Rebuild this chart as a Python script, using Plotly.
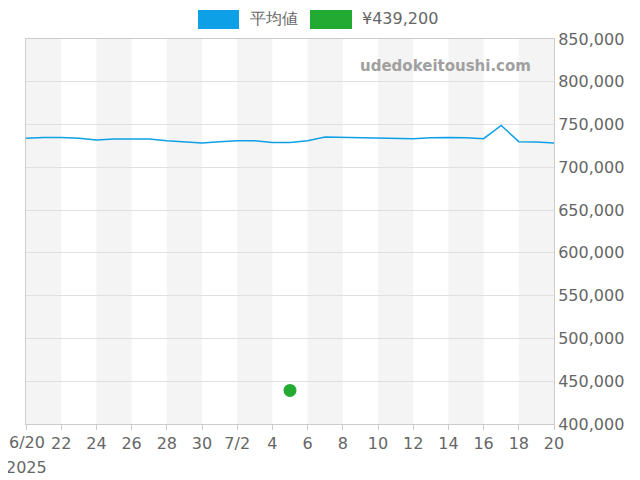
import plotly.graph_objects as go
import pandas as pd

dates = pd.date_range("2025-06-20", "2025-07-20", freq="D")
avg_price = [734000, 735000, 735000, 734000, 732000, 733000, 733000, 733000, 731000, 730000,
             728500, 730000, 731000, 731000, 729000, 729000, 731000, 735500, 735000, 734500,
             734000, 734000, 733500, 734500, 735000, 734500, 733500, 749000, 730000, 729500,
             728500]
sale_date = ["2025-07-05"]
sale_price = [439200]
legend_names = ["平均値", "¥439,200"]
legend_colors = ["#0ea0e6", "#22aa33"]

tick_vals = pd.date_range("2025-06-20", "2025-07-20", freq="2D")
tick_text = ["" if d == tick_vals[0] else
             (f"{d.month}/{d.day}" if d.day == 2 and d.month == 7 else str(d.day))
             for d in tick_vals]

fig = go.Figure()
fig.add_trace(go.Scatter(x=dates, y=avg_price, mode="lines", name=legend_names[0],
                         line=dict(color=legend_colors[0], width=1.5)))
fig.add_trace(go.Scatter(x=sale_date, y=sale_price, mode="markers", name=legend_names[1],
                         marker=dict(color=legend_colors[1], size=13)))

# alternating shaded bands every two days
for i in range(0, len(tick_vals) - 1, 2):
    fig.add_vrect(x0=tick_vals[i], x1=tick_vals[i + 1], fillcolor="#f4f4f4",
                  line_width=0, layer="below")

OFF = 7
W, H = 640, 480
L, R, T, B = 25 - OFF, 87 + OFF, 38 - OFF, 57 + OFF
pw, ph = W - L - R, H - T - B
def px(x): return (x - OFF - L) / pw
def py(y): return (H - B - (y - OFF)) / ph
boxes = [(197, 238, 247), (309, 351, 359)]
for (x0, x1, tx), name, col in zip(boxes, legend_names, legend_colors):
    fig.add_shape(type="rect", xref="paper", yref="paper", x0=px(x0), x1=px(x1),
                  y0=py(28), y1=py(9), fillcolor=col, line_width=0)
    fig.add_annotation(text=name, xref="paper", yref="paper", x=px(tx), y=py(18),
                       xanchor="left", yanchor="middle", showarrow=False,
                       font=dict(size=16, color="#666666"))

# first tick label with year, placed by hand so it is not clipped
fig.add_annotation(text="6/20", xref="paper", yref="paper", x=px(26), y=py(442),
                   xanchor="center", yanchor="middle", showarrow=False,
                   font=dict(size=16, color="#666666"))
fig.add_annotation(text="2025", xref="paper", yref="paper", x=px(3), y=py(466),
                   xanchor="left", yanchor="middle", showarrow=False,
                   font=dict(size=16, color="#666666"))

fig.add_annotation(text="<b>udedokeitoushi.com</b>", xref="paper", yref="paper",
                   x=px(532), y=py(65), showarrow=False,
                   font=dict(size=15, color="#a0a0a0", family="DejaVu Sans"),
                   xanchor="right", yanchor="middle")

fig.update_layout(
    width=W, height=H, plot_bgcolor="white", paper_bgcolor="white",
    margin=dict(l=L, r=R, t=T, b=B), showlegend=False,
    font=dict(family="DejaVu Sans", color="#666666", size=16),
    xaxis=dict(range=[dates[0], dates[-1]], tickvals=tick_vals, ticktext=tick_text,
               showgrid=False, showline=True, linecolor="#cccccc", mirror=True,
               ticks="outside", tickcolor="#cccccc", automargin=False),
    yaxis=dict(range=[400000, 850000], dtick=50000, side="right", tickformat=",",
               gridcolor="#e0e0e0", showline=True, linecolor="#cccccc", mirror=True,
               automargin=False),
)

fig.write_html("out.html")
